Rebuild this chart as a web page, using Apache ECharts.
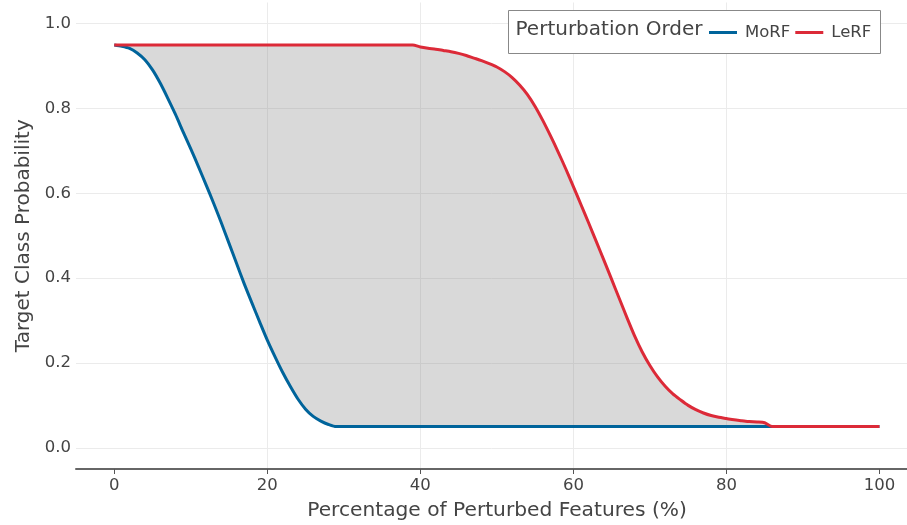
<!DOCTYPE html>
<html>
<head>
<meta charset="utf-8">
<script src="https://cdn.jsdelivr.net/npm/echarts@6/dist/echarts.min.js"></script>
<style>html,body{margin:0;padding:0;background:#fff;}#c{width:907px;height:525px;}</style>
</head>
<body>
<div id="c"></div>
<script>
const xs = [
  0,1,2,3,4,5,6,7,8,9,
  10,11,12,13,14,15,16,17,18,19,
  20,21,22,23,24,25,26,27,28,29,
  30,31,32,33,34,35,36,37,38,39,
  40,41,42,43,44,45,46,47,48,49,
  50,51,52,53,54,55,56,57,58,59,
  60,61,62,63,64,65,66,67,68,69,
  70,71,72,73,74,75,76,77,78,79,
  80,81,82,83,84,85,86,87,88,89,
  90,91,92,93,94,95,96,97,98,99,
  100
];
const morf = [
  0.95,0.947,0.942,0.931,0.915,0.891,0.86,0.824,0.786,0.745,
  0.705,0.663,0.62,0.576,0.53,0.482,0.434,0.386,0.341,0.297,
  0.254,0.215,0.178,0.145,0.115,0.091,0.074,0.063,0.055,0.05,
  0.05,0.05,0.05,0.05,0.05,0.05,0.05,0.05,0.05,0.05,
  0.05,0.05,0.05,0.05,0.05,0.05,0.05,0.05,0.05,0.05,
  0.05,0.05,0.05,0.05,0.05,0.05,0.05,0.05,0.05,0.05,
  0.05,0.05,0.05,0.05,0.05,0.05,0.05,0.05,0.05,0.05,
  0.05,0.05,0.05,0.05,0.05,0.05,0.05,0.05,0.05,0.05,
  0.05,0.05,0.05,0.05,0.05,0.05,0.05,0.05,0.05,0.05,
  0.05,0.05,0.05,0.05,0.05,0.05,0.05,0.05,0.05,0.05,
  0.05
];
const lerf = [
  0.95,0.95,0.95,0.95,0.95,0.95,0.95,0.95,0.95,0.95,
  0.95,0.95,0.95,0.95,0.95,0.95,0.95,0.95,0.95,0.95,
  0.95,0.95,0.95,0.95,0.95,0.95,0.95,0.95,0.95,0.95,
  0.95,0.95,0.95,0.95,0.95,0.95,0.95,0.95,0.95,0.95,
  0.945,0.942,0.94,0.937,0.934,0.93,0.925,0.919,0.913,0.906,
  0.898,0.887,0.873,0.855,0.833,0.805,0.772,0.736,0.698,0.658,
  0.616,0.573,0.53,0.486,0.442,0.397,0.352,0.307,0.264,0.226,
  0.194,0.167,0.145,0.127,0.113,0.1,0.09,0.082,0.076,0.072,
  0.069,0.066,0.064,0.062,0.061,0.059,0.05,0.05,0.05,0.05,
  0.05,0.05,0.05,0.05,0.05,0.05,0.05,0.05,0.05,0.05,
  0.05
];
const xTicks = [0, 20, 40, 60, 80, 100];
const yTicks = [0, 0.2, 0.4, 0.6, 0.8, 1.0];
const seriesNames = ['MoRF', 'LeRF'];
const legendTitle = 'Perturbation Order';
const xTitle = 'Percentage of Perturbed Features (%)';
const yTitle = 'Target Class Probability';

const FONT = 'DejaVu Sans';
const TXT = '#444';
const chart = echarts.init(document.getElementById('c'), null, {renderer: 'canvas'});
const pts = (ys) => xs.map((x, i) => [x, ys[i]]);

chart.setOption({
  animation: false,
  backgroundColor: '#ffffff',
  grid: {left: 76, top: 2.5, right: 0, bottom: 56, containLabel: false},
  xAxis: {
    type: 'value', min: -5, max: 103.6, splitNumber: 5, minInterval: 20, maxInterval: 20,
    axisLine: {show: true, onZero: false, lineStyle: {color: '#666', width: 2}},
    axisTick: {show: true, length: 5, customValues: xTicks, lineStyle: {color: '#555', width: 1}},
    axisLabel: {customValues: xTicks, fontFamily: FONT, fontSize: 16.5, color: TXT, margin: 8},
    splitLine: {show: true, showMinLine: false, showMaxLine: false, lineStyle: {color: '#ebebeb', width: 1}}
  },
  yAxis: {
    type: 'value', min: -0.05, max: 1.05, splitNumber: 5, minInterval: 0.2, maxInterval: 0.2,
    name: yTitle, nameLocation: 'middle', nameGap: 42, nameRotate: 90,
    nameTextStyle: {fontFamily: FONT, fontSize: 20, color: TXT},
    axisLine: {show: false},
    axisTick: {show: false},
    axisLabel: {customValues: yTicks, fontFamily: FONT, fontSize: 16.5, color: TXT, margin: 5,
      formatter: (v) => v.toFixed(1)},
    splitLine: {show: true, showMinLine: false, showMaxLine: false, lineStyle: {color: '#ebebeb', width: 1}}
  },
  legend: {
    data: seriesNames, left: 704, top: 19, icon: 'rect', itemWidth: 28, itemHeight: 3, itemGap: 5,
    textStyle: {fontFamily: FONT, fontSize: 16.5, color: TXT, padding: [0, 0, 0, 3]},
    z: 10
  },
  graphic: [
    {type: 'rect', z: 5, shape: {x: 508.5, y: 10.5, width: 372, height: 43},
      style: {fill: '#ffffff', stroke: '#888888', lineWidth: 1}},
    {type: 'text', z: 6, x: 515.5, y: 30,
      style: {text: legendTitle, font: '20px "DejaVu Sans"', fill: TXT, verticalAlign: 'middle', align: 'left'}},
    {type: 'text', z: 6, x: 497, y: 511,
      style: {text: xTitle, font: '20.2px "DejaVu Sans"', fill: TXT, verticalAlign: 'middle', align: 'center'}}
  ],
  series: [
    {name: '_band', type: 'custom', coordinateSystem: 'cartesian2d', silent: true, z: 1,
      data: [[50, 0.5]], encode: {x: 0, y: 1},
      renderItem: function (params, api) {
        const top = xs.map((x, i) => api.coord([x, lerf[i]]));
        const bot = xs.map((x, i) => api.coord([x, morf[i]])).reverse();
        return {type: 'polygon', shape: {points: top.concat(bot)},
          style: {fill: 'rgba(128,128,128,0.3)'}};
      }},
    {name: seriesNames[0], type: 'line', data: pts(morf), symbol: 'none', smooth: 0.25,
      lineStyle: {color: '#00649b', width: 3, join: 'round'}, itemStyle: {color: '#00649b'}, z: 3},
    {name: seriesNames[1], type: 'line', data: pts(lerf), symbol: 'none', smooth: 0.25,
      lineStyle: {color: '#dc2a38', width: 3, join: 'round'}, itemStyle: {color: '#dc2a38'}, z: 4}
  ]
});
</script>
</body>
</html>
